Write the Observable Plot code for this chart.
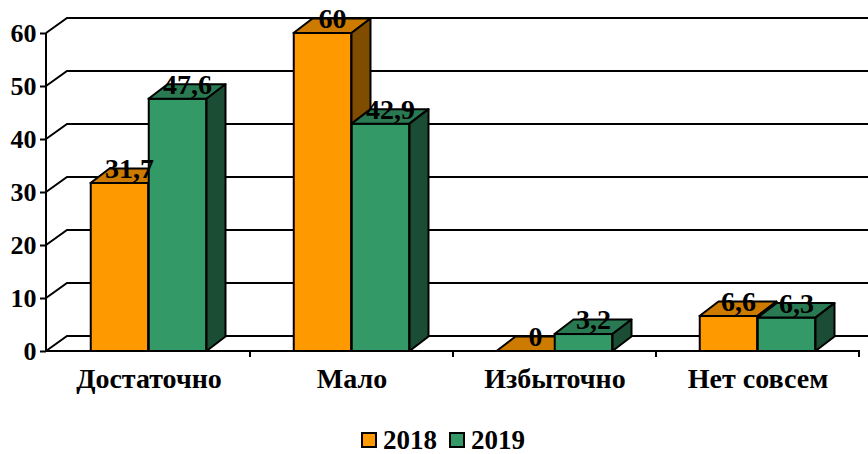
<!DOCTYPE html>
<html>
<head>
<meta charset="utf-8">
<script src="https://cdn.jsdelivr.net/npm/d3@7"></script>
<script src="https://cdn.jsdelivr.net/npm/@observablehq/plot@0.6"></script>
<style>
  body { margin: 0; background: #fff; }
  #chart { width: 868px; }
  .legend { display: flex; justify-content: center; align-items: center; height: 28px; padding-top: 16px; padding-left: 18px;
    font-family: 'Liberation Serif', 'Times New Roman', serif; font-weight: bold; font-size: 27px; color: #000; line-height: 28px; }
  .legend .item { display: flex; align-items: center; margin: 0 6px; }
  .legend .sw { width: 12px; height: 12px; border: 2px solid #000; margin-right: 6px; }
</style>
</head>
<body>
<div id="chart"></div>
<script>
// ---- data ----
const categories = ["Достаточно", "Мало", "Избыточно", "Нет совсем"];
const seriesNames = ["2018", "2019"];
const values2018 = [31.7, 60, 0, 6.6];
const values2019 = [47.6, 42.9, 3.2, 6.3];
const yTicks = [0, 10, 20, 30, 40, 50, 60];

// ---- styles ----
const colors = {"2018": "#FF9900", "2019": "#339966"};
const topColors = {"2018": "#CC7A00", "2019": "#297A52"};
const sideColors = {"2018": "#804D00", "2019": "#1A4D33"};
const W = 868, H = 410, ML = 46, MR = 8, MT = 33, MB = 59;
const bandW = (W - ML - MR) / categories.length;
const BAR_W = 58;
const DX = 19, DY = -14.5;      // bar depth
const WX = 21, WY = -15;        // wall depth
const font = "'Liberation Serif', 'Times New Roman', serif";

const rows = [];
categories.forEach((c, i) => {
  rows.push({category: c, year: seriesNames[0], value: values2018[i]});
  rows.push({category: c, year: seriesNames[1], value: values2019[i]});
});
const d2018 = rows.filter(d => d.year === "2018");
const d2019 = rows.filter(d => d.year === "2019");
const fmt = v => String(v).replace(".", ",");

function bandwidth(x) {
  return x.bandwidth ? x.bandwidth() : (x(categories[1]) - x(categories[0]));
}

// back wall gridlines + axis lines
function wallMark(index, scales, values, dims) {
  const {x, y} = scales;
  const g = d3.create("svg:g").attr("fill", "none").attr("stroke", "#000").attr("stroke-width", 2);
  const x0 = dims.marginLeft, x1 = dims.width - dims.marginRight;
  for (const t of yTicks) {
    const py = y(t);
    g.append("path").attr("d", `M${x0},${py}L${x0 + WX},${py + WY}L${x1 + WX + 20},${py + WY}`);
  }
  // front axes
  g.append("path").attr("d", `M${x0},${y(yTicks[yTicks.length - 1])}L${x0},${y(0)}L${x1},${y(0)}`);
  const bw = bandwidth(x);
  categories.forEach((c) => {
    const bx = x(c) + bw;
    g.append("path").attr("d", `M${bx},${y(0)}L${bx},${y(0) + 6}`);
  });
  return g.node();
}

function facesMark(data, year) {
  return (index, scales) => {
    const {x, y} = scales;
    const bw = bandwidth(x);
    const g = d3.create("svg:g").attr("stroke", "#000").attr("stroke-width", 2).attr("stroke-linejoin", "round");
    for (const d of data) {
      const left = x(d.category) + bw / 2 - (year === "2018" ? BAR_W : 0);
      const right = left + BAR_W;
      const top = y(d.value), bot = y(0);
      g.append("path").attr("fill", topColors[year])
        .attr("d", `M${left},${top}L${left + DX},${top + DY}L${right + DX},${top + DY}L${right},${top}Z`);
      g.append("path").attr("fill", sideColors[year])
        .attr("d", `M${right},${top}L${right + DX},${top + DY}L${right + DX},${bot + DY}L${right},${bot}Z`);
    }
    return g.node();
  };
}

const plot = Plot.plot({
  width: W, height: H,
  marginLeft: ML, marginRight: MR, marginTop: MT, marginBottom: MB,
  style: {fontFamily: font, color: "#000", background: "#fff", overflow: "hidden"},
  x: {type: "band", domain: categories, padding: 0},
  y: {domain: [0, 60]},
  marks: [
    wallMark,
    Plot.axisY({ticks: yTicks, tickSize: 6, tickPadding: 4, fontSize: 26, fontWeight: "bold", label: null, tickFormat: d => String(d), strokeWidth: 2}),
    Plot.axisX({tickSize: 0, tickPadding: 17, fontSize: 28, fontWeight: "bold", label: null}),
    Plot.barY(d2018, {x: "category", y: "value", fill: colors["2018"], stroke: "#000", strokeWidth: 2,
      insetLeft: bandW / 2 - BAR_W, insetRight: bandW / 2}),
    facesMark(d2018, "2018"),
    Plot.barY(d2019, {x: "category", y: "value", fill: colors["2019"], stroke: "#000", strokeWidth: 2,
      insetLeft: bandW / 2, insetRight: bandW / 2 - BAR_W}),
    facesMark(d2019, "2019"),
    Plot.text(d2018, {x: "category", y: "value", text: d => fmt(d.value), dx: -BAR_W / 2 + DX / 2, dy: -14.5,
      fontSize: 28, fontWeight: "bold", fill: "#000"}),
    Plot.text(d2019, {x: "category", y: "value", text: d => fmt(d.value), dx: BAR_W / 2 + DX / 2, dy: -14.5,
      fontSize: 28, fontWeight: "bold", fill: "#000"})
  ]
});
document.getElementById("chart").appendChild(plot);

const legend = document.createElement("div");
legend.className = "legend";
for (const s of seriesNames) {
  const item = document.createElement("div");
  item.className = "item";
  const sw = document.createElement("span");
  sw.className = "sw";
  sw.style.background = colors[s];
  const t = document.createElement("span");
  t.textContent = s;
  item.appendChild(sw);
  item.appendChild(t);
  legend.appendChild(item);
}
document.getElementById("chart").appendChild(legend);
</script>
</body>
</html>
